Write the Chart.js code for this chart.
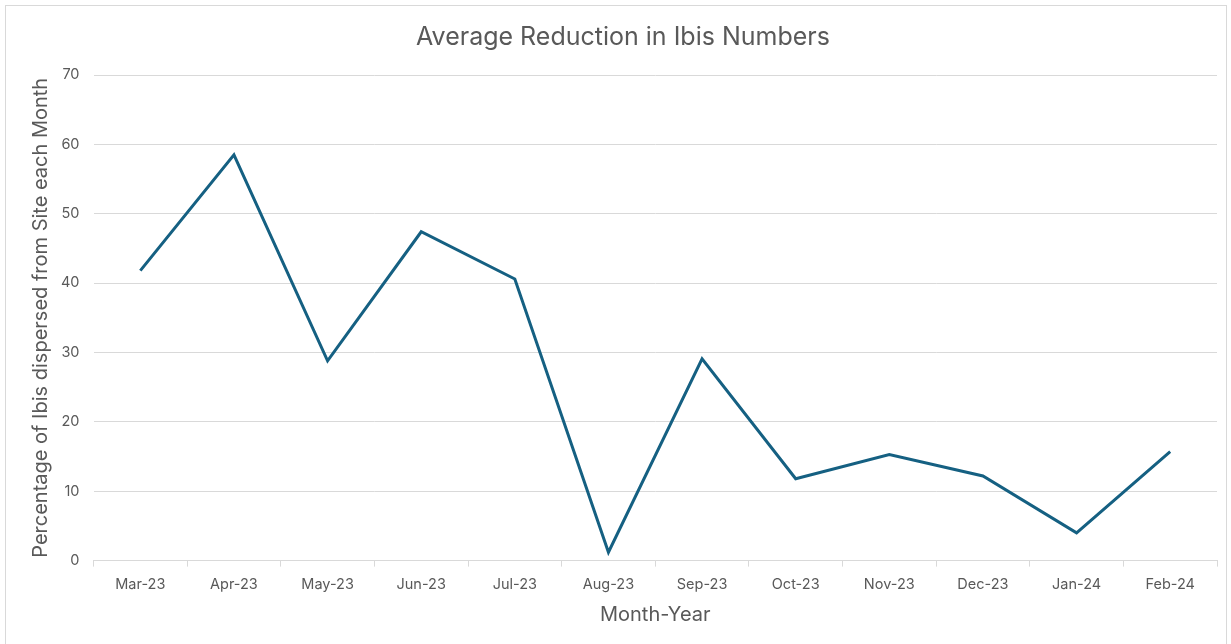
<!DOCTYPE html>
<html>
<head>
<meta charset="utf-8">
<script src="https://cdn.jsdelivr.net/npm/chart.js@4"></script>
<style>
  html, body { margin: 0; padding: 0; background: #fff; }
  #wrap { position: relative; width: 1231px; height: 644px; }
  #frame { position: absolute; left: 5px; top: 5px; width: 1222px; height: 660px; border: 1px solid #d9d9d9; box-sizing: border-box; }
</style>
</head>
<body>
<div id="wrap">
  <div id="frame"></div>
  <canvas id="chart1"></canvas>
</div>
<script>
// data
var months = ['Mar-23', 'Apr-23', 'May-23', 'Jun-23', 'Jul-23', 'Aug-23', 'Sep-23', 'Oct-23', 'Nov-23', 'Dec-23', 'Jan-24', 'Feb-24'];
var reduction = [41.8, 58.5, 28.8, 47.4, 40.6, 1.2, 29.1, 11.8, 15.3, 12.2, 4.0, 15.7];
var yTicks = [0, 10, 20, 30, 40, 50, 60, 70];

var textGrey = '#595959';
var gridGrey = '#d9d9d9';
var fontName = 'Inter, "Open Sans", sans-serif';

var ctx1 = document.getElementById('chart1').getContext('2d');
var chart1 = new Chart(ctx1, {
    type: 'line',
    data: {
        labels: months,
        datasets: [{
            label: 'Average Reduction',
            data: reduction,
            borderColor: '#156082',
            borderWidth: 3,
            pointRadius: 0,
            tension: 0,
            fill: false
        }]
    },
    options: {
        responsive: true,
        maintainAspectRatio: false,
        animation: false,
        layout: { padding: { left: 29, right: 14, top: 13, bottom: 13 } },
        plugins: {
            legend: { display: false },
            tooltip: { enabled: false },
            title: {
                display: true,
                text: 'Average Reduction in Ibis Numbers',
                color: textGrey,
                font: { family: fontName, size: 25, weight: 'normal' },
                padding: { top: 9, bottom: 23 }
            }
        },
        scales: {
            x: {
                offset: true,
                grid: {
                    display: true,
                    offset: true,
                    drawOnChartArea: false,
                    drawTicks: true,
                    tickLength: 6,
                    color: gridGrey
                },
                border: { display: true, color: gridGrey },
                ticks: {
                    color: textGrey,
                    font: { family: fontName, size: 14.5 },
                    padding: 9,
                    maxRotation: 0
                },
                title: {
                    display: true,
                    text: 'Month-Year',
                    color: textGrey,
                    font: { family: fontName, size: 20 },
                    padding: { top: 1, bottom: 4 }
                }
            },
            y: {
                min: 0,
                max: 70,
                afterBuildTicks: function (axis) {
                    axis.ticks = yTicks.map(function (v) { return { value: v }; });
                },
                grid: { color: gridGrey, drawTicks: false },
                border: { display: false },
                ticks: {
                    color: textGrey,
                    font: { family: fontName, size: 14.5 },
                    padding: 14
                },
                title: {
                    display: true,
                    text: 'Percentage of Ibis dispersed from Site each Month',
                    color: textGrey,
                    font: { family: fontName, size: 20 },
                    padding: { top: 0, bottom: -6 }
                }
            }
        }
    }
});
</script>
</body>
</html>
